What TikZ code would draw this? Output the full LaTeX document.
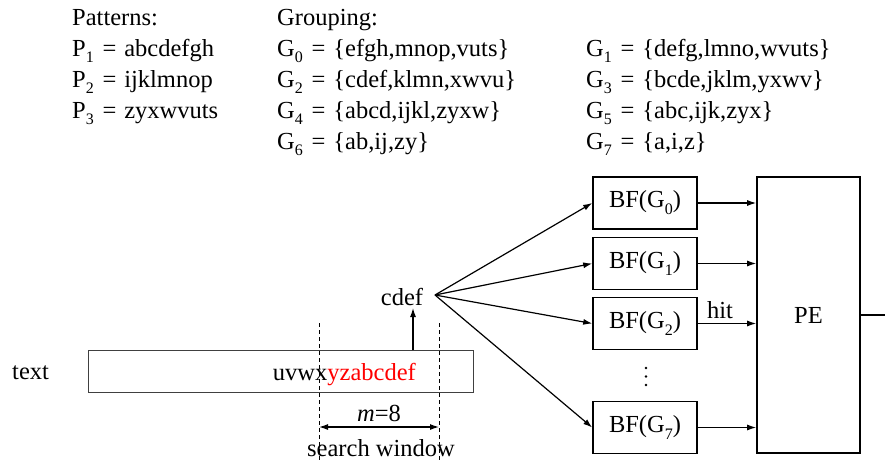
\documentclass[tikz,border=0pt]{standalone}
\usepackage{fontspec}
\setmainfont{Liberation Serif}
\newfontfamily\tnr{Liberation Serif}
\usetikzlibrary{arrows.meta,calc}
\newcommand\lo[1]{\raisebox{-0.28em}{\fontsize{16}{16}\selectfont #1}}
\newcommand\eqs{\hspace{0.36em}=\hspace{0.32em}}
\tikzset{
  txt/.style={font=\tnr\fontsize{24.5}{29}\selectfont, inner sep=0pt},
  row/.style={txt, anchor=base west},
  bfbox/.style={txt, draw, line width=1.6pt, minimum width=104pt, minimum height=52pt},
  pebox/.style={txt, draw, line width=1.6pt, minimum width=103pt, minimum height=276pt},
  strip/.style={draw=black!75, line width=0.9pt, minimum width=385pt, minimum height=42pt, inner sep=0pt},
  conn/.style={line width=1.2pt, -{Latex[length=9pt,width=6pt]}},
  dconn/.style={line width=1.2pt, {Latex[length=9pt,width=6pt]}-{Latex[length=9pt,width=6pt]}},
  guide/.style={line width=0.9pt, dashed, dash pattern=on 4pt off 3pt},
  dot/.style={circle, fill, inner sep=0pt, minimum size=2.8pt},
}
\begin{document}
\begin{tikzpicture}[x=1pt, y=-1pt]
\useasboundingbox (0,0) rectangle (885,461);

% pattern list
\node[row] (pat)  at (72,25)  {Patterns:};
\node[row] (p1)   at (72,56)  {P\lo{1}\eqs abcdefgh};
\node[row] (p2)   at (72,87)  {P\lo{2}\eqs ijklmnop};
\node[row] (p3)   at (72,118) {P\lo{3}\eqs zyxwvuts};

% grouping, two columns
\node[row] (grp)  at (277,25)  {Grouping:};
\node[row] (g0)   at (277,56)  {G\lo{0}\eqs\{efgh,mnop,vuts\}};
\node[row] (g2)   at (277,87)  {G\lo{2}\eqs\{cdef,klmn,xwvu\}};
\node[row] (g4)   at (277,118) {G\lo{4}\eqs\{abcd,ijkl,zyxw\}};
\node[row] (g6)   at (277,149) {G\lo{6}\eqs\{ab,ij,zy\}};
\node[row] (g1)   at (586,56)  {G\lo{1}\eqs\{defg,lmno,wvuts\}};
\node[row] (g3)   at (586,87)  {G\lo{3}\eqs\{bcde,jklm,yxwv\}};
\node[row] (g5)   at (586,118) {G\lo{5}\eqs\{abc,ijk,zyx\}};
\node[row] (g7)   at (586,149) {G\lo{7}\eqs\{a,i,z\}};

% Bloom filters and PE
\node[bfbox] (b0) at (645,203) {BF(G\lo{0})};
\node[bfbox] (b1) at (645,263.5) {BF(G\lo{1})};
\node[bfbox] (b2) at (645,323.5) {BF(G\lo{2})};
\node[bfbox] (b7) at (645,427.5) {BF(G\lo{7})};
\node[dot] (d1) at (646,368) {};
\node[dot] (d2) at (646,376.5) {};
\node[dot] (d3) at (646,385) {};
\node[pebox] (pe) at (808.5,315) {PE};

\draw[conn] (b0.east) -- (b0.east -| pe.west);
\draw[conn] (b1.east) -- (b1.east -| pe.west);
\draw[conn] (b2.east) -- node[txt, above=4pt, pos=0.38] (hit) {hit} (b2.east -| pe.west);
\draw[conn] (b7.east) -- (b7.east -| pe.west);
\coordinate (out) at (885,315);
\draw[line width=1.2pt] (pe.east) -- (out);

% text stream and search window
\node[txt, anchor=base west] (tlab) at (12,379) {text};
\node[strip] (tb) at (280.5,371) {};
\node[txt, anchor=base east] (win) at (416,380) {uvwx\textcolor{red}{yzabcdef}};

\coordinate (w1t) at (319,323);
\coordinate (w1b) at (319,461);
\coordinate (w2t) at (439,323);
\coordinate (w2b) at (439,461);
\draw[guide] (w1t) -- (w1b);
\draw[guide] (w2t) -- (w2b);
\coordinate (ml) at (319,427);
\coordinate (mr) at (439,427);
\draw[dconn] (ml) -- node[txt, above=5pt] (mlab) {\textit{m}=8} (mr);
\node[txt] (sw) at (381,448) {search window};

% extracted substring fanned out to the filters
\node[txt] (cdef) at (402,297) {cdef};
\coordinate (tap) at (413,350);
\coordinate (tapend) at (413,308);
\draw[conn] (tap) -- (tapend);
\coordinate (fan) at (435,295);
\draw[conn] (fan) -- (b0.west);
\draw[conn] (fan) -- (b1.west);
\draw[conn] (fan) -- (b2.west);
\draw[conn] (fan) -- (b7.west);
\end{tikzpicture}
\end{document}
